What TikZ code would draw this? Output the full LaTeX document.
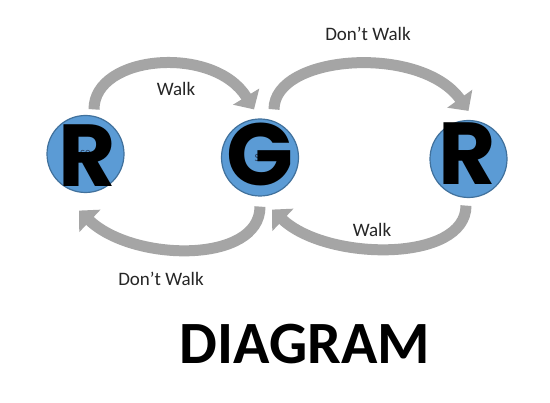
\documentclass[tikz,border=0pt]{standalone}
\usepackage{fontspec}
\setmainfont{Carlito}
\newfontfamily\bigletterfont{Poppins}
\usetikzlibrary{arrows.meta}
\definecolor{stateblue}{RGB}{91,155,213}
\definecolor{stateedge}{RGB}{65,113,156}
\definecolor{arcgray}{RGB}{165,165,165}
\definecolor{namecol}{RGB}{40,60,90}
\tikzset{
  state/.style={draw=stateedge,line width=1.2pt,fill=stateblue,circle,minimum size=77pt,inner sep=0,font=\fontsize{11}{11}\selectfont,text=namecol},
  letter/.style={inner sep=0,font=\bigletterfont\bfseries\fontsize{88}{88}\selectfont},
  arc/.style={line width=11pt,draw=arcgray,-{Triangle[width=30pt,length=15pt]}},
  lbl/.style={inner sep=0,font=\fontsize{19}{21}\selectfont,text=black!85},
}
\begin{document}
\begin{tikzpicture}[x=1pt,y=1pt]
    \fill[white] (0,0) rectangle (550,-403);
    \useasboundingbox (0,0) rectangle (550,-403);
    % states
    \node[state] (r0) at (85.5,-154) {S0};
    \node[state] (g1) at (260,-157.5) {S1};
    \node[state] (r2) at (468.5,-159) {};
    \node[letter] (r0l) at (87,-156) {R};
    \node[letter] (g1l) at (260,-154) {G};
    \node[letter] (r2l) at (467,-154) {R};
    % transitions
    \draw[arc] ([xshift=8.5pt,yshift=5.5pt]r0.north) .. controls +(0,55) and +(-40,65) .. ([xshift=-6pt,yshift=9pt]g1.north);
    \draw[arc] ([xshift=14pt,yshift=9pt]g1.north) .. controls +(0,55) and +(-48,67) .. ([yshift=9pt]r2.north);
    \draw[arc] ([xshift=0pt,yshift=-10pt]g1.south) .. controls +(0,-57) and +(55,-52) .. ([xshift=-6.5pt,yshift=-17.5pt]r0.south);
    \draw[arc] ([xshift=-2.5pt,yshift=-7.5pt]r2.south) .. controls +(0,-57) and +(55,-52) .. ([xshift=12pt,yshift=-13pt]g1.south);
    % labels
    \node[lbl] (walk1) at (176,-89) {Walk};
    \node[lbl] (stop1) at (368,-34) {Don’t Walk};
    \node[lbl] (walk2) at (372,-230) {Walk};
    \node[lbl] (stop2) at (161,-279) {Don’t Walk};
    \node[inner sep=0,font=\bfseries\fontsize{60}{60}\selectfont] (title) at (305,-344) {DIAGRAM};
\end{tikzpicture}
\end{document}
